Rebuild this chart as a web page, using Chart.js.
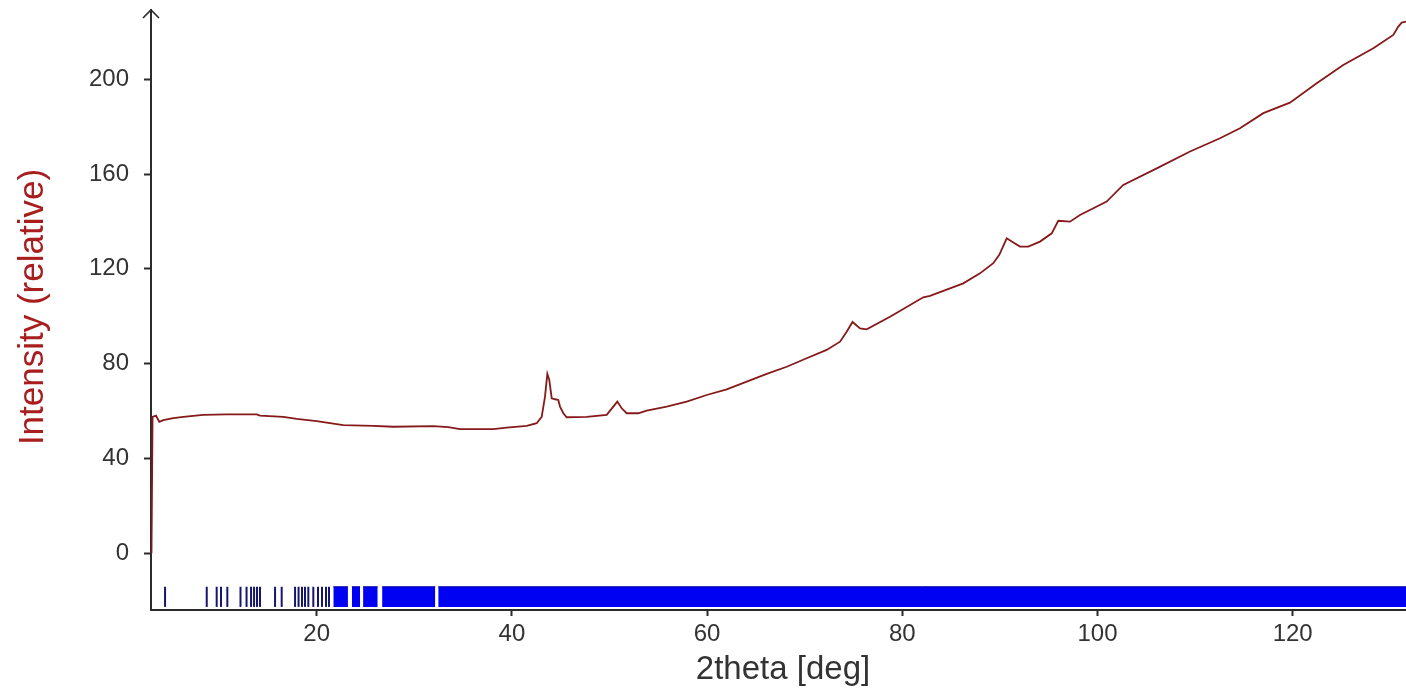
<!DOCTYPE html>
<html>
<head>
<meta charset="utf-8">
<title>Intensity vs 2theta</title>
<script src="https://cdn.jsdelivr.net/npm/chart.js@4/dist/chart.umd.min.js"></script>
<style>
  html, body { margin: 0; padding: 0; background: #ffffff; }
  #wrap { width: 1406px; height: 695px; }
</style>
</head>
<body>
<div id="wrap"><canvas id="pattern" width="1406" height="695"></canvas></div>
<script>
// Measured diffraction pattern: 2theta [deg] and relative intensity
const twoTheta = [
  3.07, 3.18, 3.53, 3.87, 4.28, 5.31, 6.33, 8.38, 10.78, 13.85,
  14.19, 16.58, 17.95, 20.0, 21.36, 22.73, 25.8, 27.85, 31.95, 33.48,
  34.68, 38.09, 39.47, 41.52, 42.54, 43.05, 43.39, 43.63, 43.83, 44.08,
  44.42, 44.75, 44.93, 45.27, 45.61, 47.66, 49.71, 50.39, 50.80, 51.25,
  51.76, 52.95, 53.81, 55.86, 57.91, 59.96, 62.01, 64.06, 66.11, 68.16,
  70.20, 72.25, 73.62, 74.30, 74.90, 75.67, 76.35, 78.74, 82.15, 82.84,
  86.25, 87.96, 89.32, 89.94, 90.70, 91.21, 92.06, 92.91, 94.11, 95.31,
  95.98, 97.18, 98.21, 100.94, 102.64, 106.07, 109.48, 112.55, 114.60, 116.99,
  119.72, 122.46, 125.18, 128.26, 130.31, 130.82, 131.17, 131.61
];
const intensity = [
  0, 57.6, 58.1, 55.5, 56.2, 57.0, 57.6, 58.4, 58.6, 58.6,
  58.1, 57.6, 56.7, 55.8, 54.9, 54.1, 53.8, 53.4, 53.7, 53.2,
  52.4, 52.4, 53.0, 53.8, 54.9, 57.6, 66.1, 75.7, 73.1, 65.4,
  65.0, 64.7, 61.9, 59.1, 57.4, 57.6, 58.4, 61.9, 64.0, 61.2,
  59.1, 59.1, 60.2, 61.9, 64.0, 66.8, 69.2, 72.4, 75.7, 78.7,
  82.3, 85.8, 89.3, 93.5, 97.6, 94.9, 94.5, 99.8, 108.0, 108.6,
  113.9, 118.1, 122.4, 125.9, 132.9, 131.5, 129.4, 129.4, 131.5, 135.0,
  140.3, 139.9, 142.7, 148.4, 155.4, 162.4, 169.5, 175.1, 179.3, 185.7,
  190.1, 198.3, 206.0, 213.1, 218.7, 222.2, 223.9, 224.3
];

// Individual reflection positions (2theta) in the low-angle range
const reflectionPositions = [
  4.46, 8.73, 9.75, 10.19, 10.84, 12.19, 12.81, 13.27, 13.58, 13.88,
  14.19, 15.73, 16.41, 17.78, 18.14, 18.49, 18.80, 19.14, 19.65, 20.13,
  20.54, 20.95, 21.26
];
// Ranges where reflections are so dense that they merge into a solid band
const reflectionRanges = [
  [21.7, 23.2], [23.6, 24.45], [24.75, 26.25], [26.7, 32.15], [32.45, 131.7]
];
// Vertical extent of the reflection strip (in intensity units)
const stripTop = -14.1;
const stripBottom = -22.6;
const stripMid = (stripTop + stripBottom) / 2;

// Axis ranges and ticks
const xRange = [3.02, 131.61];
const yRange = [-23.9, 229.2];
const xTickStep = 20;
const yTickStep = 40;

const FONT = '"Liberation Sans", Arial, sans-serif';
const AXIS_COLOR = '#2b2b2b';

const curve = twoTheta.map((t, i) => ({ x: t, y: intensity[i] }));

const datasets = [
  {
    label: 'Intensity',
    data: curve,
    borderColor: '#861919',
    borderWidth: 1.8,
    pointRadius: 0,
    tension: 0,
    fill: false
  },
  {
    label: 'Reflections',
    type: 'scatter',
    data: reflectionPositions.map(t => ({ x: t, y: stripMid })),
    pointStyle: 'line',
    rotation: 90,
    radius: (stripTop - stripBottom) * 600 / (yRange[1] - yRange[0]) / 2,
    borderColor: '#16166e',
    borderWidth: 2,
    showLine: false
  }
];

reflectionRanges.forEach(([a, b]) => {
  datasets.push({
    label: 'Reflections (dense)',
    data: [{ x: a, y: stripTop }, { x: b, y: stripTop }],
    borderColor: '#0000a8',
    borderWidth: 1,
    backgroundColor: '#0000f2',
    pointRadius: 0,
    fill: { value: stripBottom }
  });
});

// Axis arrow and axis titles
const decor = {
  id: 'decor',
  afterDraw(chart) {
    const { ctx, chartArea } = chart;
    const x0 = chartArea.left, y0 = chartArea.top;
    ctx.save();
    ctx.strokeStyle = AXIS_COLOR;
    ctx.lineWidth = 1.6;
    ctx.beginPath();
    ctx.moveTo(x0 - 8, y0 + 8);
    ctx.lineTo(x0, y0);
    ctx.lineTo(x0 + 8, y0 + 8);
    ctx.stroke();

    ctx.fillStyle = '#333333';
    ctx.font = '33px ' + FONT;
    ctx.textAlign = 'center';
    ctx.textBaseline = 'middle';
    ctx.fillText('2theta [deg]', 783, 670);

    ctx.translate(33, 307);
    ctx.rotate(-Math.PI / 2);
    ctx.font = '35px ' + FONT;
    ctx.fillStyle = '#a81e1e';
    ctx.fillText('Intensity (relative)', 0, 0);
    ctx.restore();
  }
};

new Chart(document.getElementById('pattern'), {
  type: 'line',
  data: { datasets },
  options: {
    responsive: false,
    animation: false,
    devicePixelRatio: 1,
    layout: { autoPadding: false, padding: { top: 10, left: 0, right: 0, bottom: 0 } },
    plugins: { legend: { display: false }, tooltip: { enabled: false } },
    scales: {
      x: {
        type: 'linear',
        min: xRange[0],
        max: xRange[1],
        border: { display: true, color: AXIS_COLOR, width: 2 },
        grid: { display: true, drawOnChartArea: false, drawTicks: true, tickLength: 6, tickWidth: 2, tickColor: AXIS_COLOR },
        ticks: {
          stepSize: xTickStep, includeBounds: false, padding: 4, color: '#333333',
          maxRotation: 0, autoSkip: false, font: { family: FONT, size: 24 }
        },
        afterFit(scale) { scale.height = 85; scale.paddingLeft = 0; scale.paddingRight = 0; }
      },
      y: {
        type: 'linear',
        min: yRange[0],
        max: yRange[1],
        border: { display: true, color: AXIS_COLOR, width: 2 },
        grid: { display: true, drawOnChartArea: false, drawTicks: true, tickLength: 7, tickWidth: 2, tickColor: AXIS_COLOR },
        ticks: {
          stepSize: yTickStep, includeBounds: false, padding: 15, color: '#333333',
          font: { family: FONT, size: 24 }
        },
        afterFit(scale) { scale.width = 151; scale.paddingTop = 0; scale.paddingBottom = 0; }
      }
    }
  },
  plugins: [decor]
});
</script>
</body>
</html>
